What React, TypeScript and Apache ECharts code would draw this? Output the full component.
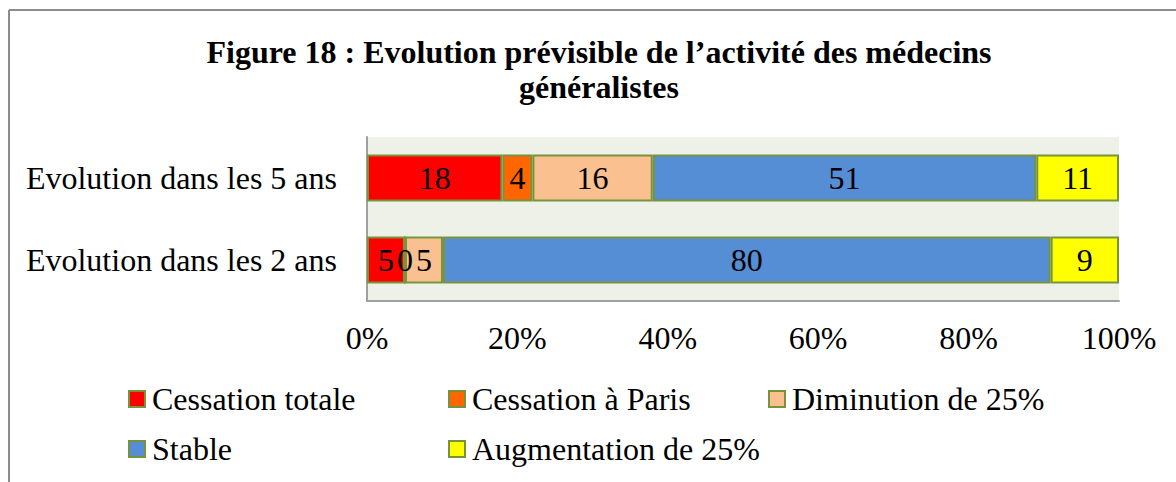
import React, { useEffect, useRef } from "react";
import * as echarts from "echarts";

const titleText = "Figure 18 : Evolution prévisible de l’activité des médecins\ngénéralistes";
const categories = ["Evolution dans les 5 ans", "Evolution dans les 2 ans"];
const seriesNames = ["Cessation totale", "Cessation à Paris", "Diminution de 25%", "Stable", "Augmentation de 25%"];
const cessationTotale = [18, 5];
const cessationParis = [4, 0];
const diminution = [16, 5];
const stable = [51, 80];
const augmentation = [11, 9];
const seriesColors = ["#FF0000", "#FF6600", "#FAC090", "#558ED5", "#FFFF00"];
const xMin = 0;
const xMax = 100;
const xInterval = 20;

const FONT = "'Liberation Serif', 'Times New Roman', serif";

export default function App() {
  const ref = useRef<HTMLDivElement>(null);
  useEffect(() => {
    if (!ref.current) return;
    const chart = echarts.init(ref.current, undefined, { renderer: "svg" });
    const raw = [cessationTotale, cessationParis, diminution, stable, augmentation];
    const totals = categories.map((_, i) => raw.reduce((s, arr) => s + arr[i], 0));

    const legendPos = [
      { left: 128, top: 383 },
      { left: 448, top: 383 },
      { left: 768, top: 383 },
      { left: 128, top: 433 },
      { left: 448, top: 433 },
    ];

    chart.setOption({
      animation: false,
      backgroundColor: "#FFFFFF",
      graphic: [
        {
          type: "line",
          shape: { x1: 9, y1: 10, x2: 1176, y2: 10 },
          style: { stroke: "#8C8C8C", lineWidth: 2 },
        },
        {
          type: "line",
          shape: { x1: 9, y1: 10, x2: 9, y2: 482 },
          style: { stroke: "#8C8C8C", lineWidth: 2 },
        },
        {
          type: "text",
          x: 599,
          y: 34,
          style: {
            text: titleText,
            textAlign: "center",
            textVerticalAlign: "top",
            fontFamily: FONT,
            fontWeight: "bold",
            fontSize: 32,
            lineHeight: 35,
            fill: "#000000",
          },
        },
      ],
      grid: {
        left: 367,
        right: 57,
        top: 137,
        bottom: 181,
        show: true,
        backgroundColor: "#EEF1E8",
        borderWidth: 0,
        containLabel: false,
      },
      legend: seriesNames.map((name, i) => ({
        data: [name],
        left: legendPos[i].left,
        top: legendPos[i].top,
        padding: 0,
        itemWidth: 16,
        itemHeight: 16,
        icon: "rect",
        selectedMode: false,
        itemStyle: { borderColor: "#77933C", borderWidth: 2 },
        textStyle: {
          fontFamily: FONT,
          fontSize: 32,
          lineHeight: 32,
          color: "#000000",
          padding: [0, 0, 0, 2],
        },
      })),
      xAxis: {
        type: "value",
        min: xMin,
        max: xMax,
        interval: xInterval,
        axisLine: { show: true, lineStyle: { color: "#A0A0A0", width: 2 } },
        axisTick: { show: false },
        splitLine: { show: false },
        axisLabel: {
          formatter: "{value}%",
          margin: 21,
          fontFamily: FONT,
          fontSize: 32,
          color: "#000000",
        },
      },
      yAxis: {
        type: "category",
        data: categories,
        inverse: true,
        axisLine: { show: true, lineStyle: { color: "#A0A0A0", width: 2 } },
        axisTick: { show: false },
        splitLine: { show: false },
        axisLabel: {
          margin: 30,
          fontFamily: FONT,
          fontSize: 32,
          color: "#000000",
        },
      },
      series: seriesNames.map((name, si) => ({
        name,
        type: "bar",
        stack: "total",
        barWidth: 47,
        data: raw[si].map((v, i) => (v / totals[i]) * 100),
        itemStyle: { color: seriesColors[si], borderColor: "#77933C", borderWidth: 2 },
        emphasis: { disabled: true },
        label: {
          show: true,
          position: "inside",
          fontFamily: FONT,
          fontSize: 32,
          color: "#000000",
          formatter: (p: any) => String(raw[si][p.dataIndex]),
        },
      })),
    });
    return () => chart.dispose();
  }, []);
  return (
    <div
      ref={ref}
      style={{ position: "fixed", left: 0, top: 0, width: 1176, height: 482 }}
    />
  );
}
